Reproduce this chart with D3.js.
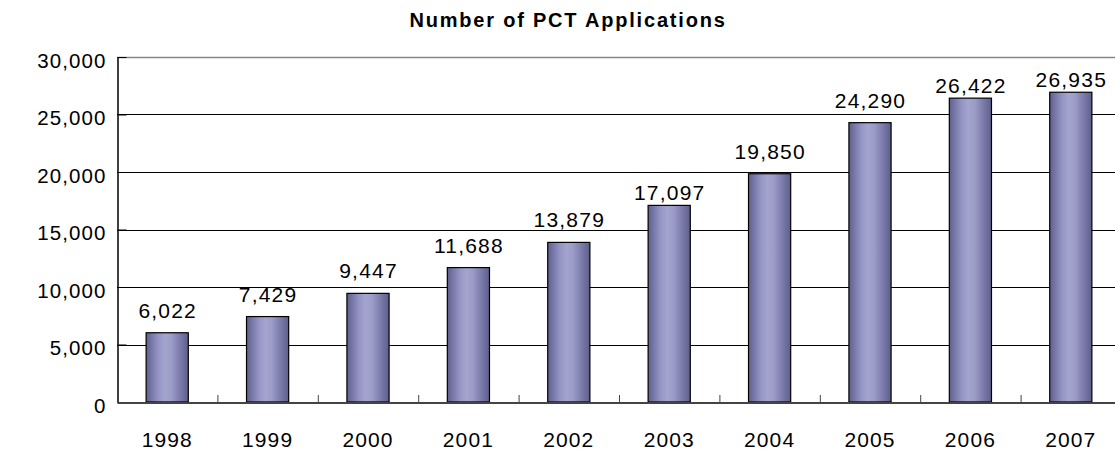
<!DOCTYPE html>
<html><head><meta charset="utf-8">
<script src="https://cdn.jsdelivr.net/npm/d3@7"></script>
<style>
body{margin:0;background:#fff;}
text{font-family:"Liberation Sans",Arial,sans-serif;fill:#000;}
</style></head>
<body><svg id="c" width="1115" height="452"></svg>
<script>
const years = ["1998","1999","2000","2001","2002","2003","2004","2005","2006","2007"];
const applications = [6022,7429,9447,11688,13879,17097,19850,24290,26422,26935];
const yTicks = [0,5000,10000,15000,20000,25000,30000];
const title = "Number of PCT Applications";
// labels that sit closer to their bar tops in the original
const closeLabels = new Set(["2003","2006","2007"]);

const svg = d3.select("#c");
const m = {left:117, right:1121, top:57, bottom:402};
const x = d3.scaleBand().domain(years).range([m.left, m.right]).paddingInner(0.58).paddingOuter(0.29);
const xb = d3.scaleBand().domain(years).range([m.left, m.right]);
const y = d3.scaleLinear().domain([0,30000]).range([m.bottom, m.top]);

const defs = svg.append("defs");
const g = defs.append("linearGradient").attr("id","bg").attr("x1","0").attr("x2","1").attr("y1","0").attr("y2","0");
[[0,"#5f5f8c"],[0.12,"#7676a6"],[0.3,"#9696c6"],[0.45,"#a4a4cf"],[0.6,"#9c9cc8"],[0.8,"#7c7cac"],[1,"#5e5e8a"]]
  .forEach(([o,c])=>g.append("stop").attr("offset",o).attr("stop-color",c));

// gridlines
svg.append("g").selectAll("line").data(yTicks.filter(d=>d>0)).join("line")
  .attr("x1",m.left).attr("x2",m.right).attr("y1",d=>Math.round(y(d))+0.5).attr("y2",d=>Math.round(y(d))+0.5)
  .attr("stroke",d=>d===30000?"#888":"#000").attr("stroke-width",d=>d===30000?1.5:1);

// y axis
const ya = svg.append("g").attr("transform",`translate(${m.left+0.5},0)`)
  .call(d3.axisLeft(y).tickValues(yTicks).tickFormat(d3.format(",")).tickSizeInner(-9).tickSizeOuter(0).tickPadding(11));
ya.select(".domain").attr("stroke","#000").attr("stroke-width",1.5);
ya.selectAll(".tick line").attr("stroke","#000");
ya.selectAll("text").attr("font-size",20.5).attr("dy","0.5em").attr("letter-spacing","1.1px")
  .attr("font-family","Liberation Sans, Arial, sans-serif").attr("fill","#000");

// bars
svg.append("g").selectAll("rect").data(applications).join("rect")
  .attr("x",(d,i)=>x(years[i])).attr("width",x.bandwidth())
  .attr("y",d=>y(d)).attr("height",d=>m.bottom-y(d))
  .attr("fill","url(#bg)").attr("stroke","#000").attr("stroke-width",1.2);

// x axis
const xa = svg.append("g").attr("transform",`translate(0,${m.bottom+0.5})`)
  .call(d3.axisBottom(xb).tickSize(0).tickPadding(30));
xa.select(".domain").attr("stroke","#444").attr("stroke-width",2);
xa.selectAll("text").attr("font-size",21).attr("letter-spacing","1.1px").attr("font-family","Liberation Sans, Arial, sans-serif").attr("fill","#000");
svg.append("g").selectAll("line").data(years.slice(1)).join("line")
  .attr("x1",d=>xb(d)+0.5).attr("x2",d=>xb(d)+0.5).attr("y1",m.bottom).attr("y2",m.bottom-7)
  .attr("stroke","#444").attr("stroke-width",1);

// value labels
svg.append("g").selectAll("text").data(applications).join("text")
  .attr("x",(d,i)=>x(years[i])+x.bandwidth()/2+0.5)
  .attr("y",(d,i)=>y(d)-(closeLabels.has(years[i])?5:15))
  .attr("text-anchor","middle").attr("font-size",21).attr("letter-spacing","1.2px")
  .text(d=>d3.format(",")(d));

// title
svg.append("text").attr("x",568).attr("y",27).attr("text-anchor","middle")
  .attr("font-size",20).attr("font-weight","bold").attr("letter-spacing","1.8px").text(title);
</script></body></html>
